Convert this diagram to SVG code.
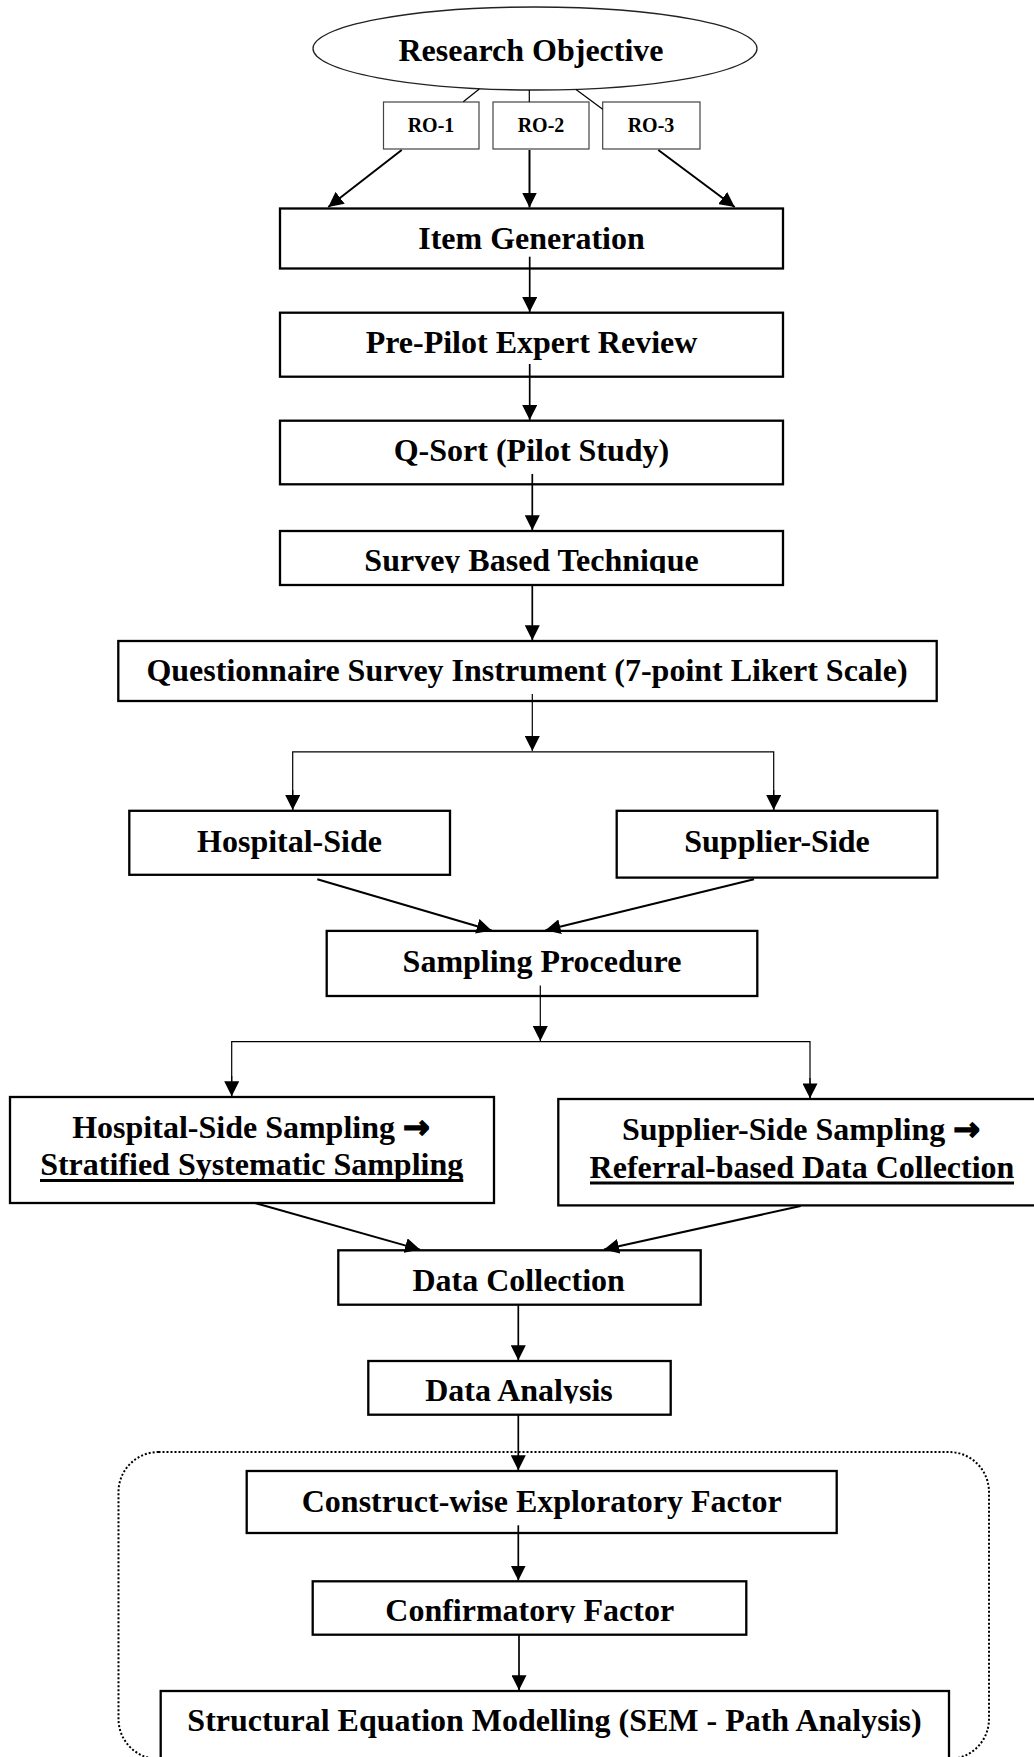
<svg xmlns="http://www.w3.org/2000/svg" width="1034" height="1757" viewBox="0 0 1034 1757">
  <style>
    .box { fill: #fff; stroke: #000; stroke-width: 2.3; }
    .rob { fill: #fff; stroke: #444; stroke-width: 1.2; }
    .t { font-family: "Liberation Serif", "Times New Roman", serif; font-weight: bold; font-size: 32px; text-anchor: middle; fill: #000; }
    .ts { font-size: 20px; }
    .sym { font-family: "DejaVu Sans", sans-serif; font-weight: bold; font-size: 32px; stroke: #000; stroke-width: 1.4; }
    .c { stroke: #000; stroke-width: 1.7; fill: none; }
    .thin { stroke-width: 1.2; }
    .thick { stroke-width: 2; }
    .ul { stroke: #000; stroke-width: 3; }
    .group { fill: none; stroke: #000; stroke-width: 2; stroke-dasharray: 2 2; }
  </style>
  <defs>
    <marker id="ah" markerUnits="userSpaceOnUse" markerWidth="15" markerHeight="15" refX="15" refY="7.5" orient="auto" viewBox="0 0 15 15">
      <path d="M0,0 L15,7.5 L0,15 Z" fill="#000"/>
    </marker>
    <clipPath id="clipSurvey"><rect x="280" y="531" width="503" height="42"/></clipPath>
    <clipPath id="clipAnalysis"><rect x="368" y="1361" width="303" height="42.5"/></clipPath>
    <clipPath id="clipCfa"><rect x="312" y="1581" width="434" height="42"/></clipPath>
  </defs>
  <rect width="1034" height="1757" fill="#fff"/>

  <!-- analysis stage enclosure -->
  <rect id="analysis-group" class="group" x="118.5" y="1452" width="870.5" height="307" rx="40"/>

  <g id="research-objective">
    <ellipse cx="535" cy="48.5" rx="222" ry="41.5" fill="#fff" stroke="#222" stroke-width="1.3"/>
    <text class="t" x="531" y="61">Research Objective</text>
  </g>
  <g id="ro-1">
    <rect class="rob" x="383.5" y="102" width="95.5" height="47"/>
    <text class="t ts" x="431" y="132">RO-1</text>
  </g>
  <g id="ro-2">
    <rect class="rob" x="493" y="102" width="96" height="47"/>
    <text class="t ts" x="541" y="132">RO-2</text>
  </g>
  <g id="ro-3">
    <rect class="rob" x="602.7" y="102" width="97.3" height="47"/>
    <text class="t ts" x="651" y="132">RO-3</text>
  </g>

  <g id="item-generation">
    <rect class="box" x="280" y="208.5" width="503" height="60"/>
    <text class="t" x="531.5" y="248.7">Item Generation</text>
  </g>
  <g id="pre-pilot">
    <rect class="box" x="280" y="312.7" width="503" height="64"/>
    <text class="t" x="531.5" y="352.7">Pre-Pilot Expert Review</text>
  </g>
  <g id="q-sort">
    <rect class="box" x="280" y="420.7" width="503" height="63.6"/>
    <text class="t" x="531.5" y="461">Q-Sort (Pilot Study)</text>
  </g>
  <g id="survey-technique">
    <rect class="box" x="280" y="531" width="503" height="54"/>
    <text class="t" x="531.5" y="571" clip-path="url(#clipSurvey)">Survey Based Technique</text>
  </g>
  <g id="questionnaire">
    <rect class="box" x="118.3" y="641" width="818.4" height="60"/>
    <text class="t" x="527" y="681">Questionnaire Survey Instrument (7-point Likert Scale)</text>
  </g>
  <g id="hospital-side">
    <rect class="box" x="129.3" y="810.8" width="320.7" height="64"/>
    <text class="t" x="289.5" y="851.8">Hospital-Side</text>
  </g>
  <g id="supplier-side">
    <rect class="box" x="616.7" y="810.8" width="320.6" height="66.8"/>
    <text class="t" x="777" y="851.8">Supplier-Side</text>
  </g>
  <g id="sampling-procedure">
    <rect class="box" x="326.7" y="930.9" width="430.6" height="65.1"/>
    <text class="t" x="542" y="972">Sampling Procedure</text>
  </g>
  <g id="hospital-sampling">
    <rect class="box" x="10" y="1097" width="484" height="106"/>
    <text class="t" x="251" y="1138">Hospital-Side Sampling <tspan class="sym">→</tspan></text>
    <text class="t" x="251.7" y="1175">Stratified Systematic Sampling</text>
    <line class="ul" x1="40" y1="1180.5" x2="463.3" y2="1180.5"/>
  </g>
  <g id="supplier-sampling">
    <rect class="box" x="558.3" y="1099" width="488" height="106.4"/>
    <text class="t" x="801" y="1140">Supplier-Side Sampling <tspan class="sym">→</tspan></text>
    <text class="t" x="802" y="1177.5">Referral-based Data Collection</text>
    <line class="ul" x1="590" y1="1183" x2="1014" y2="1183"/>
  </g>
  <g id="data-collection">
    <rect class="box" x="338.3" y="1250.3" width="362.4" height="54.4"/>
    <text class="t" x="518.7" y="1291.3">Data Collection</text>
  </g>
  <g id="data-analysis">
    <rect class="box" x="368.3" y="1361" width="302.4" height="53.7"/>
    <text class="t" x="519" y="1401.3" clip-path="url(#clipAnalysis)">Data Analysis</text>
  </g>
  <g id="exploratory-factor">
    <rect class="box" x="246.7" y="1471" width="590" height="62"/>
    <text class="t" x="541.7" y="1512">Construct-wise Exploratory Factor</text>
  </g>
  <g id="confirmatory-factor">
    <rect class="box" x="312.7" y="1581.3" width="433.6" height="53.4"/>
    <text class="t" x="529.7" y="1621.3" clip-path="url(#clipCfa)">Confirmatory Factor</text>
  </g>
  <g id="sem">
    <rect class="box" x="160.7" y="1691" width="788.3" height="80"/>
    <text class="t" x="554.5" y="1731.3">Structural Equation Modelling (SEM - Path Analysis)</text>
  </g>

  <g id="connectors">
    <!-- objective to sub-objectives -->
    <line class="c thin" x1="479.3" y1="89" x2="463.3" y2="101.7"/>
    <line class="c thin" x1="529.3" y1="90" x2="529.3" y2="102"/>
    <line class="c thin" x1="576" y1="89.5" x2="602.7" y2="109.3"/>
    <!-- sub-objectives to item generation -->
    <line class="c thick" x1="401.7" y1="150" x2="328.3" y2="207" marker-end="url(#ah)"/>
    <line class="c thick" x1="529.5" y1="150" x2="529.5" y2="207.5" marker-end="url(#ah)"/>
    <line class="c thick" x1="658.3" y1="150" x2="734.7" y2="207" marker-end="url(#ah)"/>
    <!-- main sequence -->
    <line class="c" x1="529.7" y1="256.7" x2="529.7" y2="312" marker-end="url(#ah)"/>
    <line class="c" x1="529.7" y1="364" x2="529.7" y2="420" marker-end="url(#ah)"/>
    <line class="c" x1="532.3" y1="474" x2="532.3" y2="530.3" marker-end="url(#ah)"/>
    <line class="c" x1="532.3" y1="585" x2="532.3" y2="640.3" marker-end="url(#ah)"/>
    <!-- questionnaire split -->
    <line class="c thin" x1="532.3" y1="694" x2="532.3" y2="751" marker-end="url(#ah)"/>
    <polyline class="c thin" points="292.7,810 292.7,751.9 773.7,751.9 773.7,810"/>
    <line class="c thin" x1="292.7" y1="790" x2="292.7" y2="810" marker-end="url(#ah)"/>
    <line class="c thin" x1="773.7" y1="790" x2="773.7" y2="810" marker-end="url(#ah)"/>
    <!-- sides to sampling procedure -->
    <line class="c thick" x1="317.3" y1="879.3" x2="491.7" y2="930.5" marker-end="url(#ah)"/>
    <line class="c thick" x1="754" y1="879.3" x2="545.5" y2="930.2" marker-end="url(#ah)"/>
    <!-- sampling split -->
    <line class="c thin" x1="540.3" y1="985.6" x2="540.3" y2="1041" marker-end="url(#ah)"/>
    <polyline class="c thin" points="231.7,1096.3 231.7,1041.6 810,1041.6 810,1098.4"/>
    <line class="c thin" x1="231.7" y1="1076" x2="231.7" y2="1096.3" marker-end="url(#ah)"/>
    <line class="c thin" x1="810" y1="1078" x2="810" y2="1098.4" marker-end="url(#ah)"/>
    <!-- sampling strategies to data collection -->
    <line class="c thick" x1="255" y1="1203" x2="420" y2="1249.6" marker-end="url(#ah)"/>
    <line class="c thick" x1="800.7" y1="1206" x2="604" y2="1249.6" marker-end="url(#ah)"/>
    <!-- analysis sequence -->
    <line class="c" x1="518.3" y1="1304.7" x2="518.3" y2="1360.3" marker-end="url(#ah)"/>
    <line class="c" x1="518.3" y1="1414.7" x2="518.3" y2="1470.3" marker-end="url(#ah)"/>
    <line class="c" x1="518.3" y1="1525.3" x2="518.3" y2="1580.6" marker-end="url(#ah)"/>
    <line class="c" x1="519" y1="1634.7" x2="519" y2="1690.3" marker-end="url(#ah)"/>
  </g>
</svg>
